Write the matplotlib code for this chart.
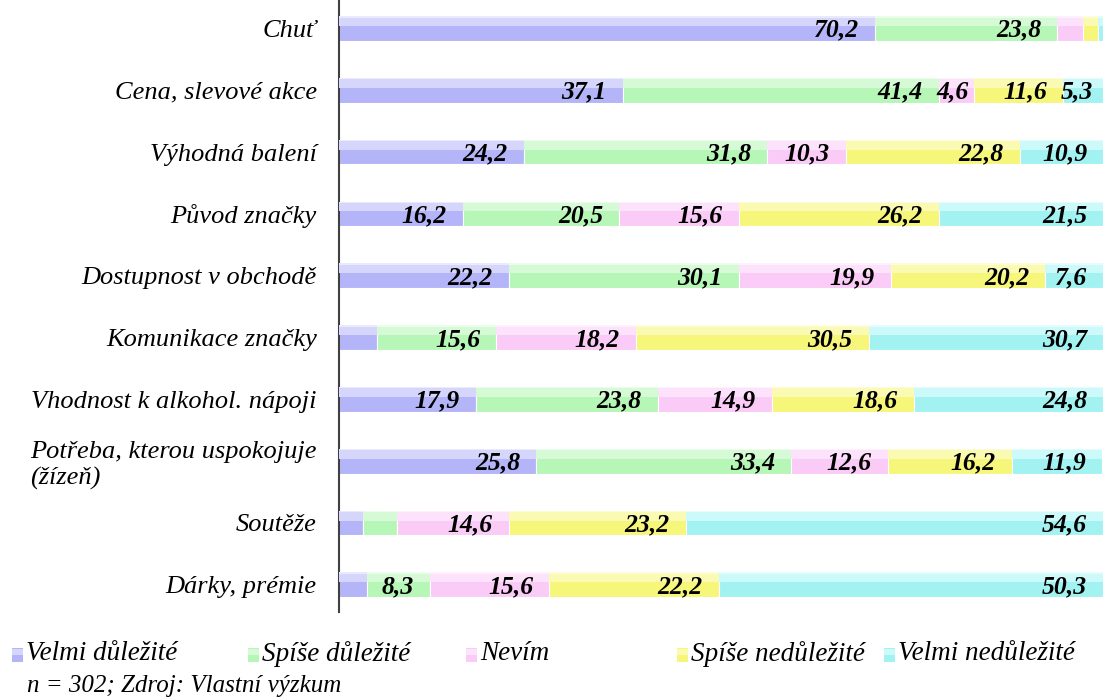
import numpy as np
import matplotlib
matplotlib.use("Agg")
import matplotlib.pyplot as plt
from matplotlib.patches import Rectangle

plt.rcParams['font.family'] = ['Liberation Serif', 'DejaVu Serif']

categories = ['Chuť', 'Cena, slevové akce', 'Výhodná balení', 'Původ značky',
              'Dostupnost v obchodě', 'Komunikace značky', 'Vhodnost k alkohol. nápoji',
              'Potřeba, kterou uspokojuje\n(žízeň)', 'Soutěže', 'Dárky, prémie']
series = ['Velmi důležité', 'Spíše důležité', 'Nevím', 'Spíše nedůležité', 'Velmi nedůležité']

velmi_dul = [70.2, 37.1, 24.2, 16.2, 22.2, 5.0, 17.9, 25.8, 3.2, 3.6]
spise_dul = [23.8, 41.4, 31.8, 20.5, 30.1, 15.6, 23.8, 33.4, 4.4, 8.3]
nevim = [3.3, 4.6, 10.3, 15.6, 19.9, 18.2, 14.9, 12.6, 14.6, 15.6]
spise_nedul = [2.0, 11.6, 22.8, 26.2, 20.2, 30.5, 18.6, 16.2, 23.2, 22.2]
velmi_nedul = [0.7, 5.3, 10.9, 21.5, 7.6, 30.7, 24.8, 11.9, 54.6, 50.3]

# labels Excel left out (row, series)
hidden = {(0, 2), (0, 3), (0, 4), (5, 0), (8, 0), (8, 1), (9, 0)}

footnote = 'n = 302; Zdroj: Vlastní výzkum'

base_cols = ['#b4b4f8', '#b6f6b6', '#facbf6', '#f6f67a', '#a2f2f2']
light_cols = ['#d6d6fc', '#d6fad6', '#fde2fb', '#fafab2', '#ccfafa']

data = np.array([velmi_dul, spise_dul, nevim, spise_nedul, velmi_nedul])
y = np.arange(len(categories))
bh = 0.4

fig = plt.figure(figsize=(11.04, 6.99), dpi=100)
ax = fig.add_axes([339 / 1104, 87 / 699, 765 / 1104, 612 / 699])

left = np.zeros(len(categories))
for k in range(len(series)):
    vals = data[k]
    ax.barh(y, vals, left=left, height=bh, color=base_cols[k],
            edgecolor='white', linewidth=0.8, zorder=2)
    # lighter upper part for the bevel look
    ax.barh(y - bh / 2 + bh * 0.2, vals, left=left, height=bh * 0.4,
            color=light_cols[k], edgecolor='none', zorder=3)
    ax.barh(y - bh / 2 + bh * 0.03, vals, left=left, height=bh * 0.06,
            color='white', alpha=0.5, edgecolor='none', zorder=3)
    for i, v in enumerate(vals):
        if (i, k) in hidden:
            continue
        txt = f'{v:.1f}'.replace('.', ',')
        if v >= 7:
            ax.text(left[i] + v - 2.1, y[i] + 0.03, txt, ha='right', va='center',
                    fontsize=18.5, fontweight='bold', fontstyle='italic', zorder=5)
        else:
            ax.text(left[i] - 0.3, y[i] + 0.03, txt, ha='left', va='center',
                    fontsize=18.5, fontweight='bold', fontstyle='italic', zorder=5)
    left += vals

ax.set_xlim(0, 100.1)
ax.set_ylim(9.44, -0.46)
ax.set_yticks(y)
ax.set_yticklabels(categories, fontsize=19, fontstyle='italic')
for lab in ax.get_yticklabels():
    lab.set_multialignment('left')
ax.tick_params(axis='y', length=0, pad=16)
ax.set_xticks([])
for s in ['top', 'right', 'bottom']:
    ax.spines[s].set_visible(False)
ax.spines['left'].set_color('#404040')
ax.spines['left'].set_linewidth(1.5)

# legend row
leg_x = [12, 248, 466, 677, 884]
for k, name in enumerate(series):
    x0 = leg_x[k] / 1104
    fig.patches.append(Rectangle((x0, 1 - 662 / 699), 11 / 1104, 14 / 699,
                                 transform=fig.transFigure, facecolor=base_cols[k],
                                 edgecolor='none'))
    fig.patches.append(Rectangle((x0, 1 - 655 / 699), 11 / 1104, 6 / 699,
                                 transform=fig.transFigure, facecolor=light_cols[k],
                                 edgecolor='none'))
    fig.text(x0 + 14 / 1104, 1 - 654 / 699, name, fontsize=19.5, fontstyle='italic',
             ha='left', va='center')

fig.text(27 / 1104, 1 - 686 / 699, footnote, fontsize=18, fontstyle='italic',
         ha='left', va='center')

fig.savefig('out.png', dpi=100)
